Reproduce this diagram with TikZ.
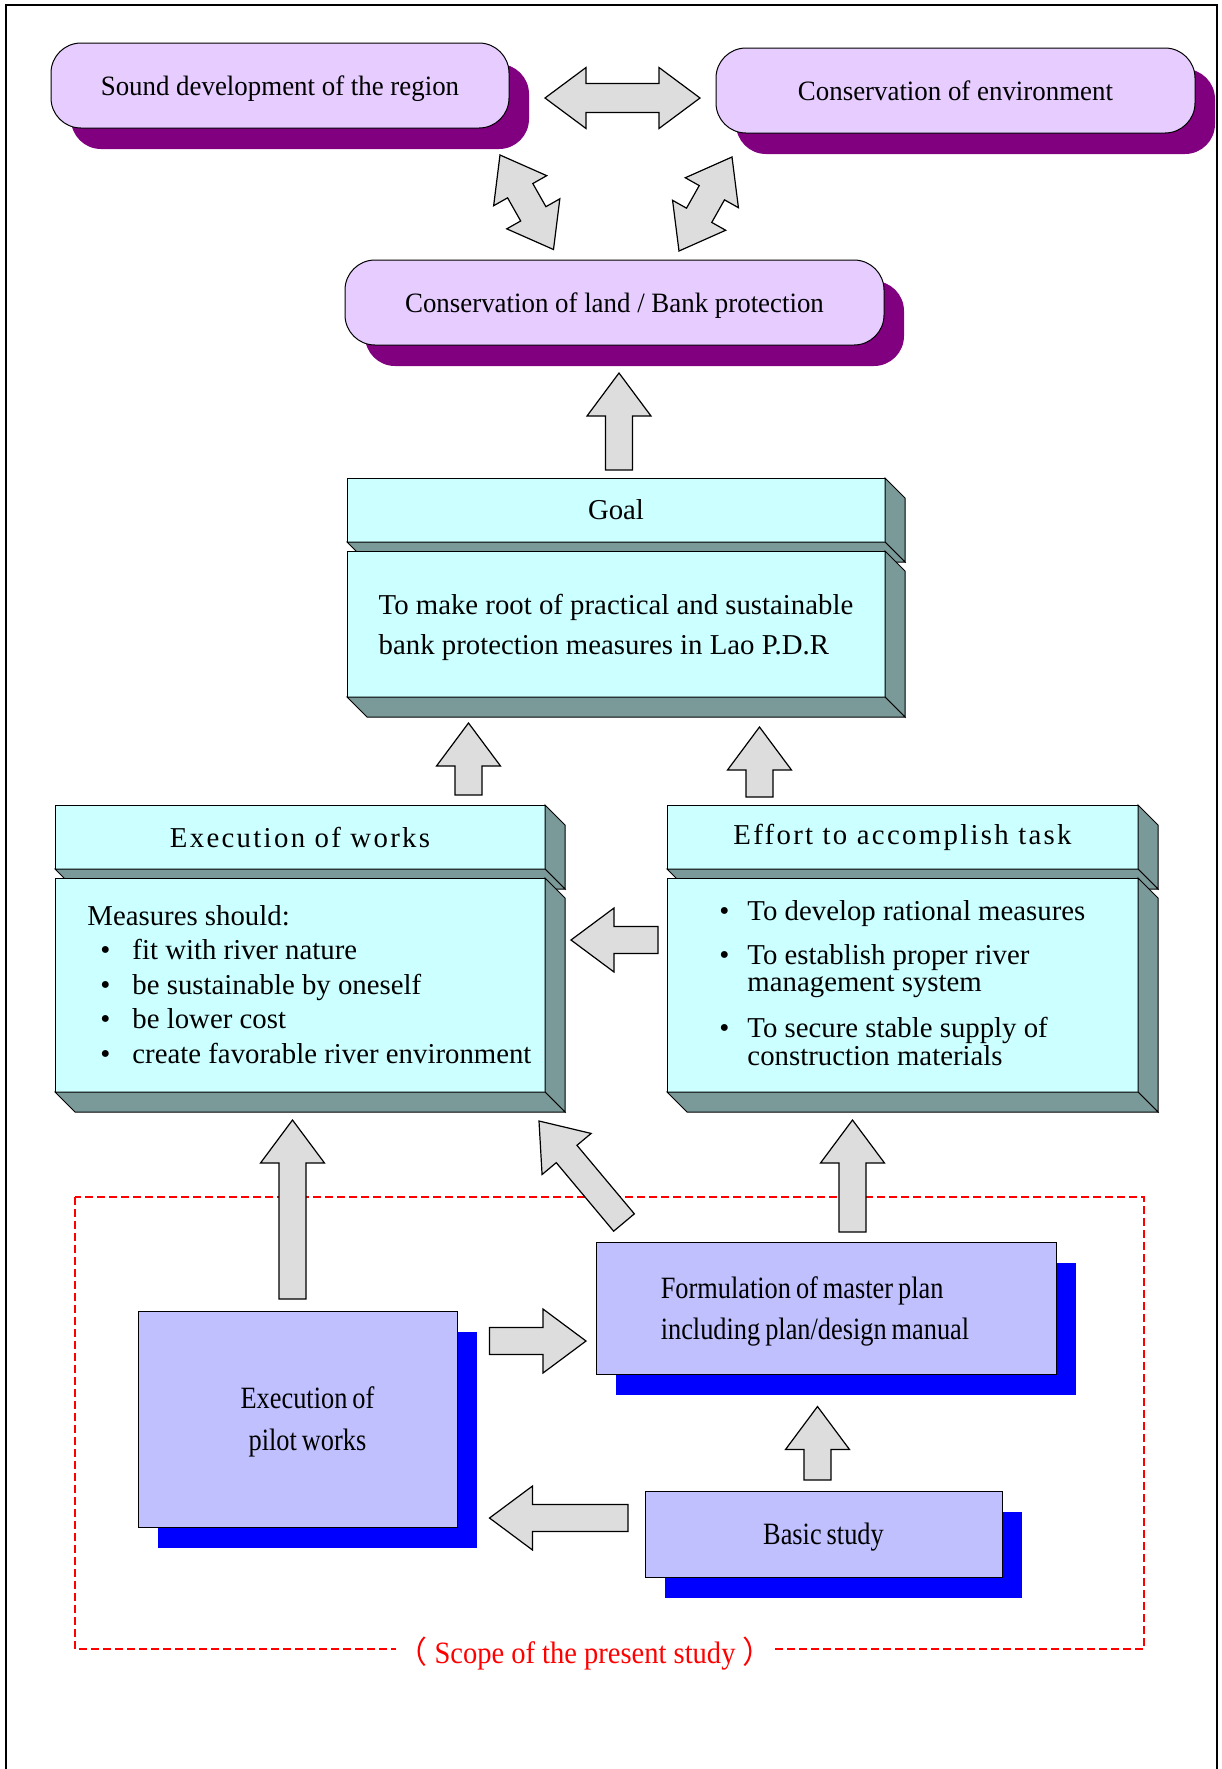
\documentclass[tikz,border=0pt]{standalone}
\usepackage{fontspec}
\setmainfont{Liberation Serif}
\newfontfamily\headfont{Liberation Serif}[LetterSpace=8]
\newfontfamily\widefont{Liberation Serif}[FakeStretch=0.96]
\newfontfamily\narrowfont{Liberation Serif}[FakeStretch=0.85,WordSpace=0.75]
\newfontfamily\notefont{Liberation Serif}[FakeStretch=0.92]
\newfontfamily\cjkfont{Noto Sans CJK JP}
\usetikzlibrary{calc,shadows}

\definecolor{lilac}{HTML}{E6CCFF}
\definecolor{plum}{HTML}{800080}
\definecolor{paleaqua}{HTML}{CCFFFF}
\definecolor{aquaside}{HTML}{7A9999}
\definecolor{periwinkle}{HTML}{C0C0FF}
\definecolor{arrowgray}{HTML}{DDDDDD}

%block arrow: tail, tip
\newcommand{\blockarrow}[2]{%
\coordinate(n)at($(#2)!21.5pt!(#1)$);
\filldraw[arrowbody]($(#1)!6.75pt!90:(#2)$)--($(n)!6.75pt!-90:(#1)$)--($(n)!16pt!-90:(#1)$)--(#2)
--($(n)!16pt!90:(#1)$)--($(n)!6.75pt!90:(#1)$)--($(#1)!6.75pt!-90:(#2)$)--cycle;}
%double block arrow: tip, tip
\newcommand{\dblarrow}[2]{%
\coordinate(na)at($(#1)!20.5pt!(#2)$);
\coordinate(nb)at($(#2)!20.5pt!(#1)$);
\filldraw[arrowbody](#1)--($(na)!15.25pt!90:(#2)$)--($(na)!7.25pt!90:(#2)$)--($(nb)!7.25pt!-90:(#1)$)--($(nb)!15.25pt!-90:(#1)$)--(#2)
--($(nb)!15.25pt!90:(#1)$)--($(nb)!7.25pt!90:(#1)$)--($(na)!7.25pt!-90:(#2)$)--($(na)!15.25pt!-90:(#2)$)--cycle;}
%right and bottom faces of a box
\newcommand{\extrude}[1]{%
\filldraw[sideface](#1.north east)--++(20,20)--($(#1.south east)+(20,20)$)--(#1.south east)--cycle;
\filldraw[sideface](#1.south west)--(#1.south east)--++(20,20)--($(#1.south west)+(20,20)$)--cycle;}

\begin{document}
\begin{tikzpicture}[x=0.5pt,y=-0.5pt,
aim/.style={rectangle,rounded corners=15pt,draw,line width=0.5pt,fill=lilac,minimum height=42.5pt,text depth=0pt,font=\fontsize{14}{17}\widefont,general shadow={fill=plum,shadow xshift=10pt,shadow yshift=-10.5pt}},
cyanhead/.style={rectangle,draw,line width=0.5pt,fill=paleaqua,outer sep=0pt,minimum height=32pt,font=\fontsize{14.4}{17}\selectfont},
cyanbody/.style={rectangle,draw,line width=0.5pt,fill=paleaqua,outer sep=0pt},
sideface/.style={draw,line width=0.5pt,fill=aquaside},
listtext/.style={inner sep=0pt,font=\fontsize{14.4}{17.25}\selectfont},
study/.style={rectangle,draw,line width=0.5pt,fill=periwinkle,text depth=0pt,general shadow={fill=blue,shadow xshift=10pt,shadow yshift=-10.5pt}},
arrowbody/.style={draw,line width=0.6pt,fill=arrowgray},
scopeline/.style={draw=red,line width=0.8pt,dash pattern=on 4pt off 2pt},
]
\useasboundingbox(0,0)rectangle(1222,1769);
%frame
\draw[line width=0.75pt](6,1769)--(6,5)--(1217,5)--(1217,1769);

%aims
\node[aim,minimum width=229pt](region)at(280,85.5){Sound development of the region};
\node[aim,minimum width=239.5pt](environment)at(955.5,90.5){Conservation of environment};
\node[aim,minimum width=269.5pt](land)at(614.5,302.5){Conservation of land / Bank protection};
\coordinate(re-l)at(545,98);\coordinate(re-r)at(700,98);
\coordinate(rl-t)at(500,155);\coordinate(rl-b)at(553.5,249.5);
\coordinate(el-t)at(732,157);\coordinate(el-b)at(679,251);
\dblarrow{re-l}{re-r}
\dblarrow{rl-t}{rl-b}
\dblarrow{el-t}{el-b}

%goal
\coordinate(lg-t)at(619,470);\coordinate(lg-h)at(619,373);
\blockarrow{lg-t}{lg-h}
\node[cyanhead,minimum width=269pt](goal)at(616,510){Goal};
\extrude{goal}
\node[cyanbody,minimum width=269pt,minimum height=73pt,align=left,text depth=0pt,font=\fontsize{14.4}{20}\selectfont](goaltext)at(616,624){To make root of practical and sustainable\\bank protection measures in Lao P.D.R};
\extrude{goaltext}

%execution of works
\node[cyanhead,minimum width=245pt,font=\fontsize{14.4}{17}\headfont](exec)at(300,837){Execution of works};
\extrude{exec}
\node[cyanbody,minimum width=245pt,minimum height=107pt](execbox)at(300,985){};
\extrude{execbox}
\node[listtext,anchor=base west](execlist)at(87,925){\begin{tabular}[t]{@{\hspace{6.5pt}}l@{\hspace{11pt}}l@{}}
\multicolumn{2}{@{}l@{}}{Measures should:}\\
\textbullet&fit with river nature\\
\textbullet&be sustainable by oneself\\
\textbullet&be lower cost\\
\textbullet&create favorable river environment
\end{tabular}};

%effort
\node[cyanhead,minimum width=235.5pt,font=\fontsize{14.4}{17}\headfont](effort)at(902.5,837){Effort to accomplish task};
\extrude{effort}
\node[cyanbody,minimum width=235.5pt,minimum height=107pt](effortbox)at(902.5,985){};
\extrude{effortbox}
\node[listtext,anchor=base west,font=\fontsize{14.4}{13.75}\selectfont](effortlist)at(719,920){\begin{tabular}[t]{@{}l@{\hspace{9pt}}l@{}}
\textbullet&To develop rational measures\\[8pt]
\textbullet&To establish proper river\\
&management system\\[8.5pt]
\textbullet&To secure stable supply of\\
&construction materials
\end{tabular}};

\coordinate(eg-t)at(468.5,795);\coordinate(eg-h)at(468.5,723);
\coordinate(fg-t)at(759.5,797);\coordinate(fg-h)at(759.5,727);
\coordinate(fe-t)at(658,940);\coordinate(fe-h)at(571,940);
\blockarrow{eg-t}{eg-h}
\blockarrow{fg-t}{fg-h}
\blockarrow{fe-t}{fe-h}

%scope of the study
\draw[scopeline](75,1197)rectangle(1144,1649);
\node[fill=white,text=red,inner xsep=0pt,inner ysep=1pt,font=\fontsize{15.5}{18}\notefont](scopenote)at(585,1654){{\cjkfont （} Scope of the present study {\cjkfont ）}};

\node[study,minimum width=159.5pt,minimum height=108pt,align=center,font=\fontsize{15.5}{21}\narrowfont](pilot)at(297.5,1419){\hspace*{10pt}Execution of\\\hspace*{10pt}pilot works};
\node[study,minimum width=230pt,minimum height=66pt,align=left,font=\fontsize{15.5}{20.5}\narrowfont](plan)at(826,1308){Formulation of master plan\\including plan/design manual\hspace*{11pt}};
\node[study,minimum width=178.5pt,minimum height=43pt,font=\fontsize{15.5}{18}\narrowfont](basic)at(823.5,1534){Basic study};

\coordinate(pe-t)at(292.5,1299);\coordinate(pe-h)at(292.5,1120);
\coordinate(pp-t)at(489.5,1341);\coordinate(pp-h)at(586,1341);
\coordinate(bp-t)at(628,1518);\coordinate(bp-h)at(489.5,1518);
\coordinate(pw-t)at(624,1222.5);\coordinate(pw-h)at(539,1121);
\coordinate(pf-t)at(852.5,1232);\coordinate(pf-h)at(852.5,1120);
\coordinate(bm-t)at(817.5,1480);\coordinate(bm-h)at(817.5,1406.5);
\blockarrow{pe-t}{pe-h}
\blockarrow{pp-t}{pp-h}
\blockarrow{bp-t}{bp-h}
\blockarrow{pw-t}{pw-h}
\blockarrow{pf-t}{pf-h}
\blockarrow{bm-t}{bm-h}
\end{tikzpicture}
\end{document}
